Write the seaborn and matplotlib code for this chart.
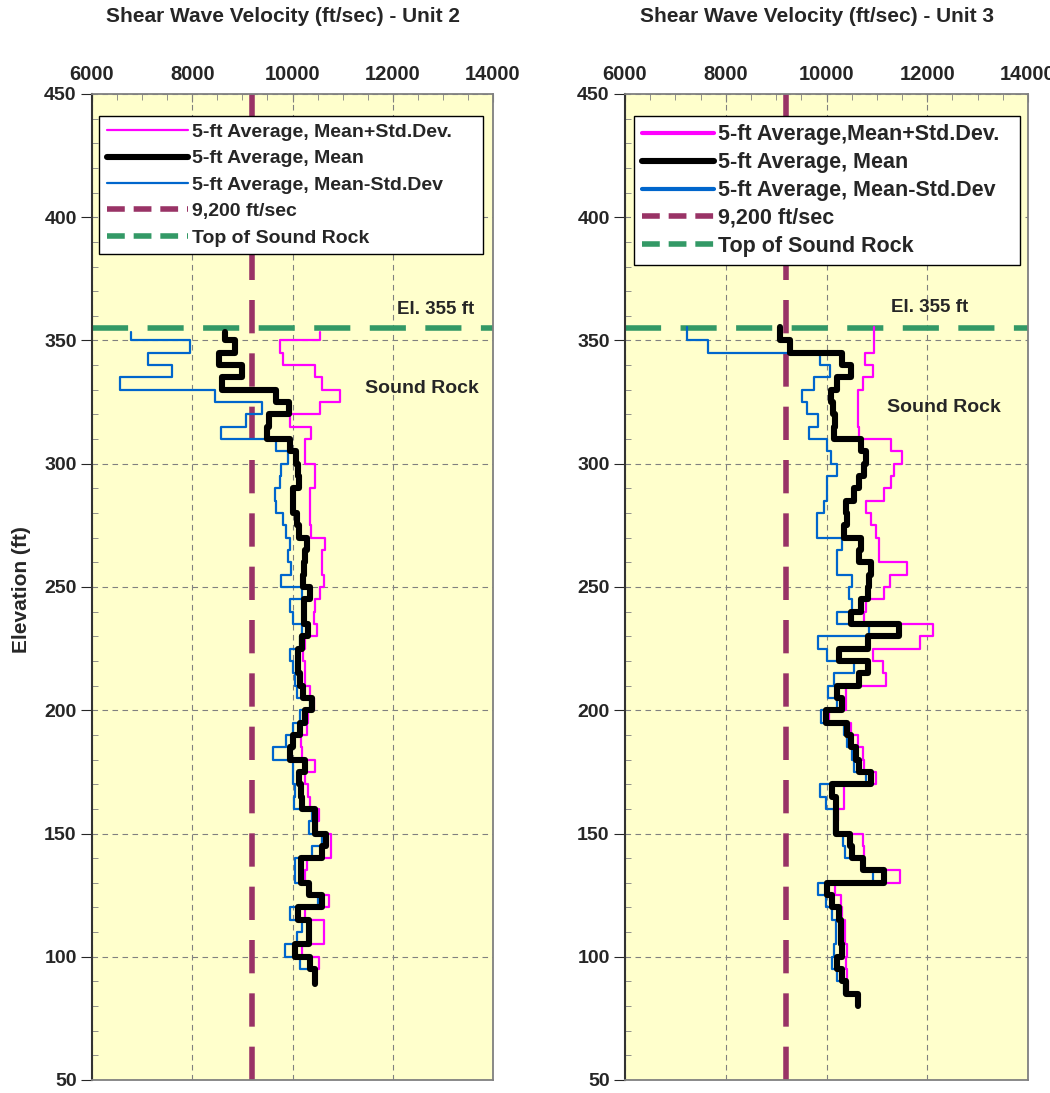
import numpy as np
import matplotlib
matplotlib.use("Agg")
import matplotlib.pyplot as plt
from matplotlib.lines import Line2D
import seaborn as sns
import pandas as pd

# ---------------- data (5-ft averaged shear-wave velocity, ft/sec) ----------------
# Unit 2: segment tops (ft), last bottom elevation
u2_tops = [353.5] + list(range(350, 94, -5))
u2_bottom = 89
u2_mean = [8662, 8845, 8527, 9000, 8595, 9676, 9926, 9540, 9487, 9960,
           10061, 10115, 10128, 10014, 10014, 10081, 10120, 10284, 10250, 10230,
           10203, 10351, 10230, 10230, 10318, 10196, 10115, 10115, 10149, 10216,
           10385, 10250, 10149, 10014, 9946, 10250, 10128, 10169, 10196, 10439,
           10439, 10668, 10588, 10169, 10169, 10331, 10588, 10115, 10331, 10331,
           10047, 10351, 10453]
u2_plus = [10540, 9743, 9811, 10453, 10588, 10946, 10540, 9946, 10365, 10250,
           10250, 10453, 10453, 10351, 10351, 10351, 10365, 10655, 10588, 10588,
           10622, 10554, 10439, 10419, 10487, 10250, 10216, 10250, 10250, 10351,
           10419, 10304, 10284, 10169, 10182, 10453, 10250, 10318, 10351, 10520,
           10487, 10777, 10777, 10284, 10250, 10351, 10736, 10250, 10622, 10622,
           10182, 10534, 10466]
u2_minus = [6784, 7953, 7108, 7601, 6568, 8459, 9385, 9068, 8574, 9676,
            9912, 9777, 9743, 9642, 9676, 9811, 9878, 9946, 9912, 9980,
            9777, 10182, 9946, 10014, 10182, 10149, 9946, 10014, 10047, 10081,
            10351, 10149, 10014, 9878, 9608, 10014, 10014, 10047, 10027, 10385,
            10331, 10588, 10385, 10047, 10047, 10351, 10507, 9946, 10196, 10081,
            9845, 10149, 10439]

# Unit 3
u3_tops = [355.5] + list(range(350, 84, -5))
u3_bottom = 80
u3_mean = [9080, 9283, 10316, 10482, 10216, 10083, 10136, 10163, 10150, 10682,
           10782, 10749, 10649, 10549, 10383, 10403, 10350, 10682, 10649, 10882,
           10849, 10815, 10682, 10483, 11447, 10815, 10250, 10815, 10649, 10216,
           10316, 9983, 10403, 10483, 10582, 10649, 10882, 10116, 10183, 10183,
           10183, 10469, 10516, 10716, 11148, 10003, 10116, 10250, 10283, 10283,
           10316, 10216, 10316, 10380, 10620]
u3_plus = [10935, 10935, 10762, 10915, 10716, 10616, 10616, 10616, 10649, 11281,
           11494, 11348, 11281, 11135, 10782, 10882, 10982, 11048, 11048, 11600,
           11268, 11148, 10782, 10749, 12113, 11847, 10915, 11115, 11181, 10383,
           10383, 10050, 10483, 10616, 10716, 10749, 10982, 10350, 10350, 10230,
           10216, 10716, 10749, 10749, 11468, 10163, 10296, 10316, 10363, 10363,
           10403, 10383, 10416, 10420, 10640]
u3_minus = [7228, 7644, 9870, 10070, 9750, 9517, 9617, 9830, 9650, 10003,
            10083, 10203, 10017, 10017, 9950, 9804, 9804, 10316, 10216, 10216,
            10516, 10449, 10516, 10216, 10849, 9830, 10003, 10536, 10150, 10030,
            10216, 9884, 10350, 10416, 10516, 10549, 10782, 9870, 9983, 10150,
            10150, 10336, 10363, 10696, 10915, 9830, 9983, 10116, 10183, 10183,
            10150, 10116, 10216, 10350, 10600]

criterion_velocity = 9200
top_sound_rock = 355

titles = ["Shear Wave Velocity (ft/sec) - Unit 2", "Shear Wave Velocity (ft/sec) - Unit 3"]
legend_labels = [
    ["5-ft Average, Mean+Std.Dev.", "5-ft Average, Mean", "5-ft Average, Mean-Std.Dev",
     "9,200 ft/sec", "Top of Sound Rock"],
    ["5-ft Average,Mean+Std.Dev.", "5-ft Average, Mean", "5-ft Average, Mean-Std.Dev",
     "9,200 ft/sec", "Top of Sound Rock"],
]
x_ticks = [6000, 8000, 10000, 12000, 14000]
y_ticks = [50, 100, 150, 200, 250, 300, 350, 400, 450]

# ---------------- style ----------------
sns.set_style("ticks")
plt.rcParams['font.family'] = ['Liberation Sans', 'DejaVu Sans']
plt.rcParams['font.weight'] = 'bold'

C_PLUS = '#FF00FF'
C_MEAN = '#000000'
C_MINUS = '#0066CC'
C_CRIT = '#993366'
C_ROCK = '#339966'
BG = '#FFFFCC'


def step_frame(tops, bottom, vals):
    b = np.append(np.asarray(tops, float), bottom)
    y = np.repeat(b, 2)[1:-1]
    x = np.repeat(np.asarray(vals, float), 2)
    return pd.DataFrame({"v": x, "e": y})


fig = plt.figure(figsize=(10.5, 10.93), dpi=100)
axL = fig.add_axes([92 / 1050, 1 - 1080 / 1093, 401 / 1050, 986 / 1093])
axR = fig.add_axes([625 / 1050, 1 - 1080 / 1093, 403 / 1050, 986 / 1093])

panels = [
    (axL, u2_tops, u2_bottom, u2_mean, u2_plus, u2_minus, 0),
    (axR, u3_tops, u3_bottom, u3_mean, u3_plus, u3_minus, 1),
]

crit_ls = (0, (6, 3.6))
rock_ls = (0, (6.5, 3.5))

leg_boxes = [(0.017, 0.70, 0.958, 0.278), (0.022, 0.70, 0.958, 0.278)]
leg_size = [14, 15.5]
leg_hl = [4.2, 3.3]
leg_sp = [0.45, 0.32]

for ax, tops, bot, mean, plus, minus, k in panels:
    ax.set_facecolor(BG)
    ax.set_xlim(6000, 14000)
    ax.set_ylim(50, 450)
    ax.axvline(criterion_velocity, color=C_CRIT, lw=4, ls=crit_ls, zorder=2)
    ax.axhline(top_sound_rock, color=C_ROCK, lw=4, ls=rock_ls, zorder=2)
    for vals, col, lw in [(plus, C_PLUS, 1.6), (minus, C_MINUS, 1.6), (mean, C_MEAN, 4.4)]:
        df = step_frame(tops, bot, vals)
        sns.lineplot(data=df, x="v", y="e", sort=False, estimator=None, ax=ax,
                     color=col, lw=lw, zorder=3 if col != C_MEAN else 4, legend=False)
    ax.set_xlabel("")
    ax.set_ylabel("")
    ax.xaxis.tick_top()
    ax.set_xticks(x_ticks)
    ax.set_xticks(np.arange(6000, 14001, 500), minor=True)
    ax.set_yticks(y_ticks)
    ax.set_yticks(np.arange(50, 451, 10), minor=True)
    ax.tick_params(axis='x', which='major', direction='in', length=6, labelsize=14.5, pad=7,
                   top=True, bottom=False, color='#808080')
    ax.tick_params(axis='x', which='minor', direction='in', length=4, top=True, bottom=False,
                   color='#808080')
    ax.tick_params(axis='y', which='major', direction='out', length=8, labelsize=14, pad=3)
    ax.tick_params(axis='y', which='minor', direction='in', length=4, color='#808080')
    for lab in ax.get_xticklabels() + ax.get_yticklabels():
        lab.set_fontweight('bold')
    ax.grid(True, which='major', ls=(0, (5, 4)), color='#808080', lw=0.8)
    for s in ['top', 'right', 'bottom']:
        ax.spines[s].set_color('#808080')
        ax.spines[s].set_linewidth(1.3)
    ax.spines['left'].set_color('#333333')
    ax.spines['left'].set_linewidth(1.5)

    handles = [
        Line2D([], [], color=C_PLUS, lw=1.6 if k == 0 else 3),
        Line2D([], [], color=C_MEAN, lw=4.4),
        Line2D([], [], color=C_MINUS, lw=1.6 if k == 0 else 3),
        Line2D([], [], color=C_CRIT, lw=4, ls=(0, (3.2, 1.6))),
        Line2D([], [], color=C_ROCK, lw=4, ls=(0, (3.2, 1.6))),
    ]
    leg = ax.legend(handles, legend_labels[k], loc='upper left', bbox_to_anchor=leg_boxes[k],
                    mode='expand', frameon=True, fancybox=False, framealpha=1,
                    edgecolor='black', facecolor='white',
                    prop={'weight': 'bold', 'size': leg_size[k]},
                    handlelength=leg_hl[k], handletextpad=0.2, labelspacing=leg_sp[k],
                    borderpad=0.4, borderaxespad=0)
    leg.get_frame().set_linewidth(1.0)
    leg.set_zorder(10)

    fig.text(ax.get_position().x0 + ax.get_position().width / 2 - 10 / 1050, 1 - 16 / 1093,
             titles[k], ha='center', va='center', fontsize=15, fontweight='bold')

axL.text(12850, 362.5, "El. 355 ft", ha='center', va='center', fontsize=13.5, fontweight='bold')
axL.text(12590, 330.5, "Sound Rock", ha='center', va='center', fontsize=14, fontweight='bold')
axR.text(12050, 363.5, "El. 355 ft", ha='center', va='center', fontsize=13.5, fontweight='bold')
axR.text(12330, 323, "Sound Rock", ha='center', va='center', fontsize=14, fontweight='bold')

fig.text(22 / 1050, 1 - 590 / 1093, "Elevation (ft)", rotation=90, ha='center', va='center',
         fontsize=15, fontweight='bold')

fig.savefig("out.png", dpi=100)
